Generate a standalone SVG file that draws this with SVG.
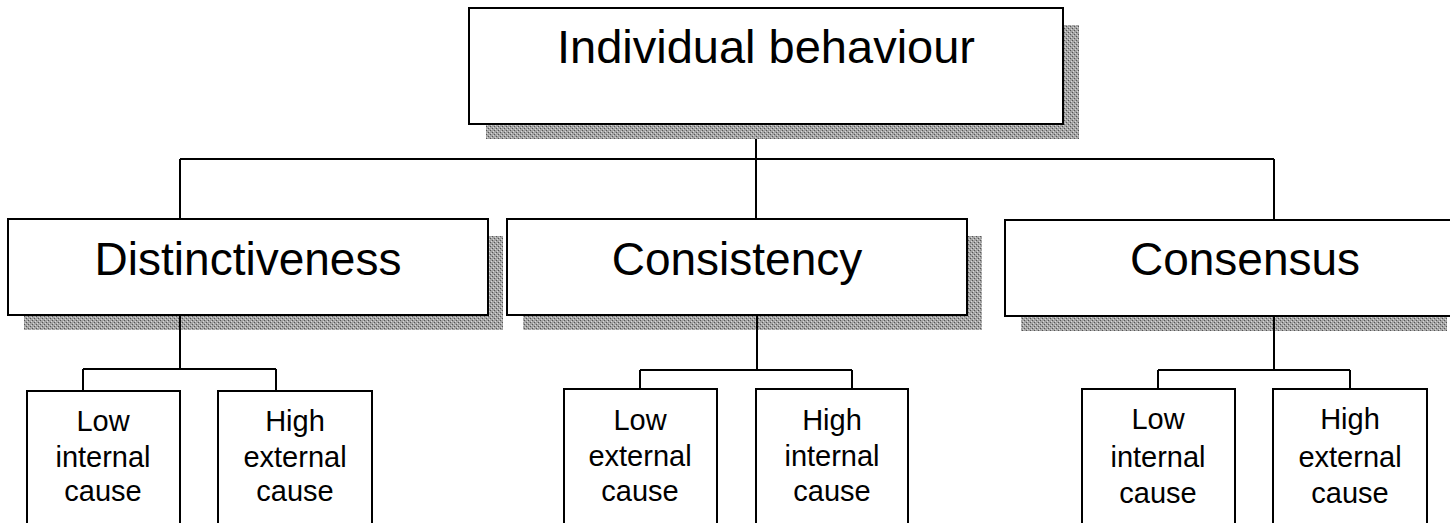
<svg xmlns="http://www.w3.org/2000/svg" width="1450" height="523" viewBox="0 0 1450 523">
<defs>
<pattern id="dither" width="4" height="4" patternUnits="userSpaceOnUse">
<rect width="4" height="4" fill="#a4a4a4"/>
<rect x="0" y="0" width="1" height="1" fill="#555"/>
<rect x="2" y="2" width="1" height="1" fill="#555"/>
<rect x="1" y="3" width="1" height="1" fill="#d8d8d8"/>
<rect x="3" y="1" width="1" height="1" fill="#d8d8d8"/>
</pattern>
</defs>
<style>
.shadow{fill:url(#dither);stroke:none}
.box{fill:#fff;stroke:#000;stroke-width:2}
.conn{fill:none;stroke:#000;stroke-width:2}
.big{font-family:"Liberation Sans",Arial,sans-serif;font-size:46px;fill:#000;text-anchor:middle}
.small{font-family:"Liberation Sans",Arial,sans-serif;font-size:29px;fill:#000;text-anchor:middle}
</style>
<rect width="1450" height="523" fill="#fff"/>
<g id="shadows">
<rect class="shadow" x="486" y="25" width="593" height="114"/>
<rect class="shadow" x="24" y="236" width="479" height="94"/>
<rect class="shadow" x="523" y="236" width="459" height="94"/>
<rect class="shadow" x="1021" y="236" width="426" height="95"/>
</g>
<g id="connectors">
<path class="conn" d="M756,139 V219 M180,159 H1274 M180,159 V219 M1274,159 V220"/>
<path class="conn" d="M180,315 V369 M83,369 H276 M83,369 V391 M276,369 V391"/>
<path class="conn" d="M757,315 V370 M640,370 H852 M640,370 V389 M852,370 V389"/>
<path class="conn" d="M1274,316 V370 M1158,370 H1350 M1158,370 V389 M1350,370 V389"/>
</g>
<g id="node-individual">
<rect class="box" x="469" y="8" width="594" height="116"/>
<text class="big" x="766" y="63" style="font-size:47px">Individual behaviour</text>
</g>
<g id="node-distinctiveness">
<rect class="box" x="8" y="219" width="480" height="96"/>
<text class="big" x="248" y="275">Distinctiveness</text>
</g>
<g id="node-consistency">
<rect class="box" x="507" y="219" width="460" height="96"/>
<text class="big" x="737" y="275">Consistency</text>
</g>
<g id="node-consensus">
<rect class="box" x="1005" y="220" width="450" height="96"/>
<text class="big" x="1245" y="275">Consensus</text>
</g>
<g id="node-d-low">
<rect class="box" x="27" y="391" width="153" height="150"/>
<text class="small" x="103" y="431">Low</text>
<text class="small" x="103" y="467">internal</text>
<text class="small" x="103" y="501">cause</text>
</g>
<g id="node-d-high">
<rect class="box" x="218" y="391" width="154" height="150"/>
<text class="small" x="295" y="431">High</text>
<text class="small" x="295" y="467">external</text>
<text class="small" x="295" y="501">cause</text>
</g>
<g id="node-ci-low">
<rect class="box" x="564" y="389" width="153" height="150"/>
<text class="small" x="640" y="430">Low</text>
<text class="small" x="640" y="466">external</text>
<text class="small" x="640" y="501">cause</text>
</g>
<g id="node-ci-high">
<rect class="box" x="756" y="389" width="152" height="150"/>
<text class="small" x="832" y="430">High</text>
<text class="small" x="832" y="466">internal</text>
<text class="small" x="832" y="501">cause</text>
</g>
<g id="node-cs-low">
<rect class="box" x="1082" y="389" width="153" height="150"/>
<text class="small" x="1158" y="429">Low</text>
<text class="small" x="1158" y="467">internal</text>
<text class="small" x="1158" y="503">cause</text>
</g>
<g id="node-cs-high">
<rect class="box" x="1273" y="389" width="154" height="150"/>
<text class="small" x="1350" y="429">High</text>
<text class="small" x="1350" y="467">external</text>
<text class="small" x="1350" y="503">cause</text>
</g>
</svg>
